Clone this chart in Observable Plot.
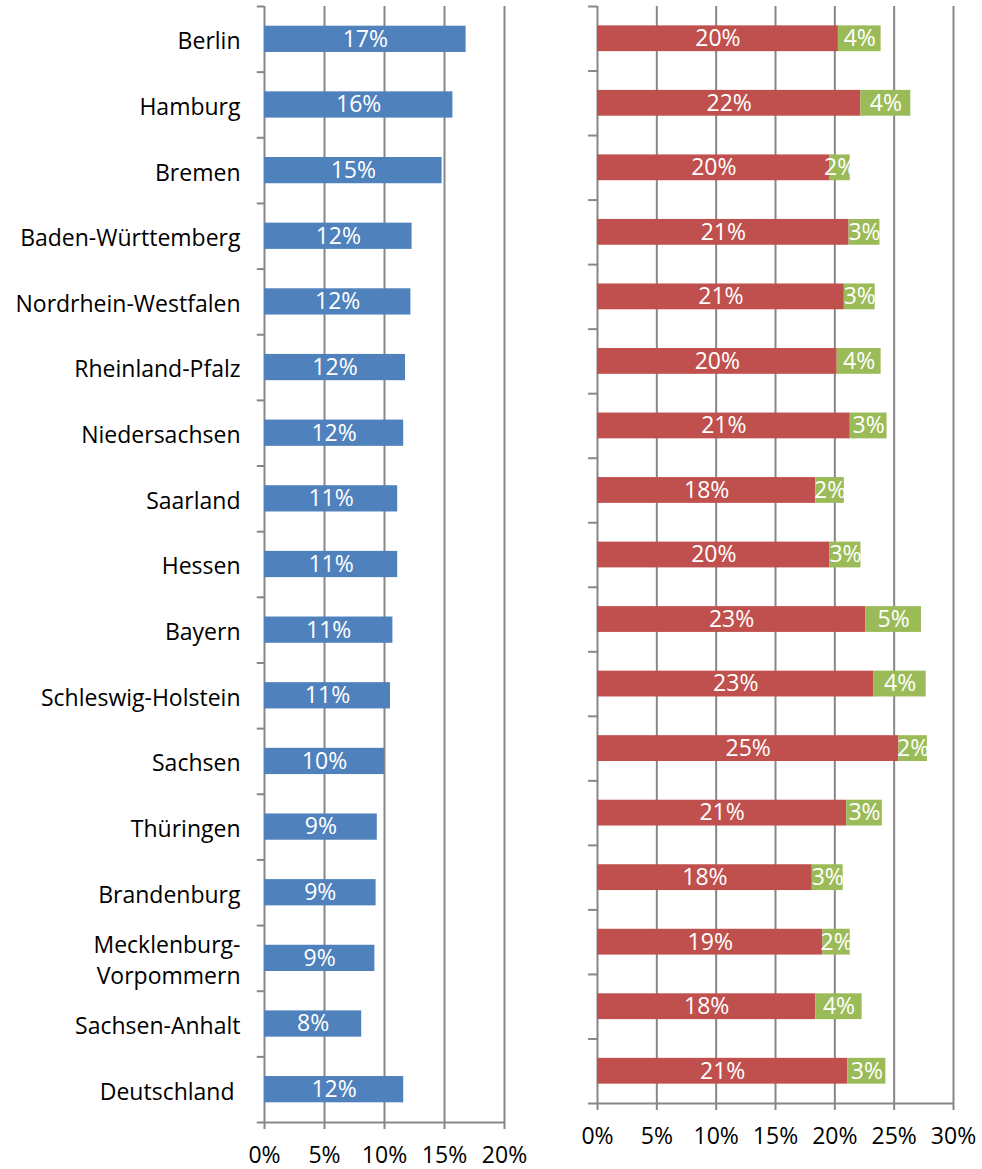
<!DOCTYPE html>
<html>
<head>
<meta charset="utf-8">
<script src="https://cdn.jsdelivr.net/npm/d3@7"></script>
<script src="https://cdn.jsdelivr.net/npm/@observablehq/plot@0.6"></script>
<style>
  body { margin: 0; background: #fff; }
  #wrap { position: relative; width: 982px; height: 1169px; overflow: hidden; }
  #left { position: absolute; left: 0; top: 0; }
  #right { position: absolute; left: 540px; top: 0; }
</style>
</head>
<body>
<div id="wrap"><div id="left"></div><div id="right"></div></div>
<script>
const states = ["Berlin","Hamburg","Bremen","Baden-Württemberg","Nordrhein-Westfalen","Rheinland-Pfalz","Niedersachsen","Saarland","Hessen","Bayern","Schleswig-Holstein","Sachsen","Thüringen","Brandenburg","Mecklenburg-Vorpommern","Sachsen-Anhalt","Deutschland"];
const stateLabels = ["Berlin","Hamburg","Bremen","Baden-Württemberg","Nordrhein-Westfalen","Rheinland-Pfalz","Niedersachsen","Saarland","Hessen","Bayern","Schleswig-Holstein","Sachsen","Thüringen","Brandenburg","Mecklenburg-\nVorpommern","Sachsen-Anhalt","Deutschland\u00a0"];
const blueValues  = [16.8,15.7,14.8,12.3,12.2,11.75,11.6,11.1,11.1,10.7,10.5,10.0,9.4,9.3,9.2,8.1,11.6];
const redValues   = [20.3,22.2,19.6,21.2,20.8,20.2,21.3,18.4,19.6,22.6,23.3,25.4,21.0,18.1,19.0,18.4,21.1];
const greenValues = [3.6,4.2,1.7,2.6,2.6,3.7,3.1,2.4,2.6,4.7,4.4,2.4,3.0,2.6,2.3,3.9,3.2];
const leftTicks  = [0,5,10,15,20];
const rightTicks = [0,5,10,15,20,25,30];

const BLUE = "#4F81BD", RED = "#C0504D", GREEN = "#9BBB59", GRID = "#878787";
const FONT = "Open Sans";
const FS = 23;
const pct = d => d + "%";
const lbl = v => Math.round(v) + "%";
const labelOf = new Map(states.map((s, i) => [s, stateLabels[i]]));

const H = 1169;

function boundaryTicks(step, len) {
  return [
    Plot.ruleY(states, {y: d => d, x1: -len, x2: 0, dy: -step / 2, stroke: GRID, strokeWidth: 2}),
    Plot.ruleY(states.slice(-1), {y: d => d, x1: -len, x2: 0, dy: step / 2, stroke: GRID, strokeWidth: 2})
  ];
}

// Left panel
{
  const mT = 6, mB = 47;
  const step = (H - mT - mB) / states.length;
  const data = states.map((s, i) => ({state: s, v: blueValues[i]}));
  const chart = Plot.plot({
    width: 540, height: H,
    marginLeft: 264, marginRight: 36, marginTop: mT, marginBottom: mB,
    style: {fontFamily: FONT, fontSize: FS + "px", color: "black", background: "transparent"},
    x: {domain: [0, 20], axis: null},
    y: {domain: states, paddingInner: 0.6, paddingOuter: 0.3, round: false, axis: null},
    marks: [
      Plot.ruleX(leftTicks.slice(1), {stroke: GRID, strokeWidth: 2}),
      Plot.ruleX([0], {stroke: GRID, strokeWidth: 2}),
      Plot.ruleY(states.slice(-1), {y: d => d, x1: 0, x2: 20, dy: step / 2, stroke: GRID, strokeWidth: 2}),
      ...boundaryTicks(step, 0.6),
      Plot.barX(data, {y: "state", x: "v", fill: BLUE}),
      Plot.text(data, {y: "state", x: d => d.v / 2, text: d => lbl(d.v), fill: "white", fontSize: FS}),
      Plot.axisY({label: null, tickSize: 0, tickPadding: 24, fontSize: FS, fill: "black", tickFormat: d => labelOf.get(d), lineHeight: 1.35}),
      Plot.axisX({label: null, ticks: leftTicks, tickFormat: pct, tickSize: 7, tickPadding: 17, stroke: GRID, strokeWidth: 2, fill: "black", fontSize: FS})
    ]
  });
  document.getElementById("left").appendChild(chart);
}

// Right panel
{
  const mT = 6, mB = 66;
  const step = (H - mT - mB) / states.length;
  const long = [];
  states.forEach((s, i) => {
    long.push({state: s, series: "a", v: redValues[i]});
    long.push({state: s, series: "b", v: greenValues[i]});
  });
  const chart = Plot.plot({
    width: 442, height: H,
    marginLeft: 57, marginRight: 29, marginTop: mT, marginBottom: mB,
    style: {fontFamily: FONT, fontSize: FS + "px", color: "black", background: "transparent"},
    x: {domain: [0, 30], axis: null},
    y: {domain: states, paddingInner: 0.6, paddingOuter: 0.3, round: false, axis: null},
    color: {domain: ["a", "b"], range: [RED, GREEN]},
    marks: [
      Plot.ruleX(rightTicks.slice(1), {stroke: GRID, strokeWidth: 2}),
      Plot.ruleX([0], {stroke: GRID, strokeWidth: 2}),
      Plot.ruleY(states.slice(-1), {y: d => d, x1: 0, x2: 30, dy: step / 2, stroke: GRID, strokeWidth: 2}),
      ...boundaryTicks(step, 0.75),
      Plot.barX(long, Plot.stackX({y: "state", x: "v", fill: "series", order: null})),
      Plot.text(long, Plot.stackX({y: "state", x: "v", order: null, text: d => lbl(d.v), fill: "white", fontSize: FS})),
      Plot.axisX({label: null, ticks: rightTicks, tickFormat: pct, tickSize: 7, tickPadding: 17, stroke: GRID, strokeWidth: 2, fill: "black", fontSize: FS})
    ]
  });
  document.getElementById("right").appendChild(chart);
}
</script>
</body>
</html>
